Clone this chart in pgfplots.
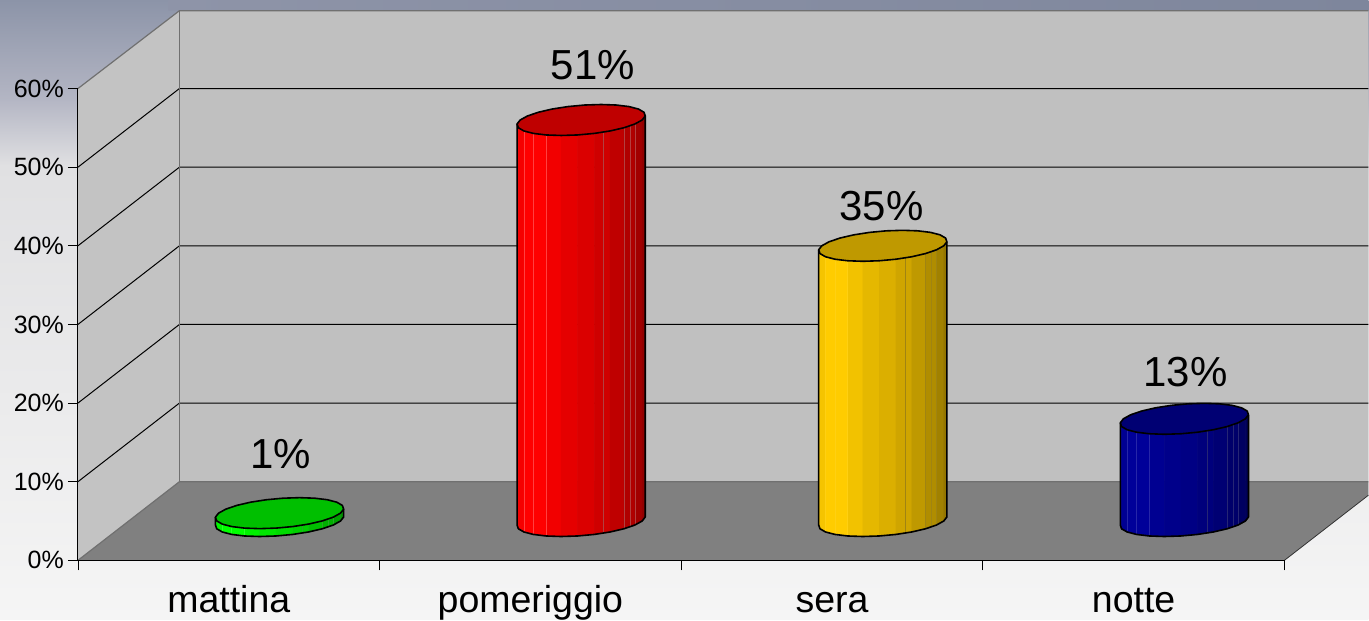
\documentclass[border=0pt]{standalone}
\usepackage{fontspec}
\setmainfont{Liberation Sans}
\usepackage{pgfplots}
\usepackage{pgfplotstable}
\pgfplotsset{compat=1.18}

\definecolor{wallback}{HTML}{C0C0C0}
\definecolor{wallside}{HTML}{C3C3C3}
\definecolor{floorc}{HTML}{808080}
\definecolor{edgec}{HTML}{707070}
\definecolor{bar1}{HTML}{00FF00}
\definecolor{bar2}{HTML}{FF0000}
\definecolor{bar3}{HTML}{FFCC00}
\definecolor{bar4}{HTML}{000099}

% one side strip: u runs along the rim, v up the bar
\pgfplotstableread{
u v
0 0
1 0
1 1
0 1
0 0
}\striptab

\pgfplotstableread{
u v
0 0
0 1
}\seamtab

% top rim, offsets from the bar centre (x in categories, y in percent)
\pgfplotstableread{
dx dy
0.2022 0
0.2125 0.510
0.2083 0.985
0.1899 1.393
0.1585 1.706
0.1163 1.903
0.0663 1.970
0.0117 1.903
-0.0437 1.706
-0.0961 1.393
-0.1419 0.985
-0.1781 0.510
-0.2022 0
-0.2125 -0.510
-0.2083 -0.985
-0.1899 -1.393
-0.1585 -1.706
-0.1163 -1.903
-0.0663 -1.970
-0.0117 -1.903
0.0437 -1.706
0.0961 -1.393
0.1419 -0.985
0.1781 -0.510
0.2022 0
}\rimtab

% visible outline of the side
\pgfplotstableread{
dx dy h
-0.2125 -0.510 1
-0.2125 -0.510 0
-0.2083 -0.985 0
-0.1899 -1.393 0
-0.1585 -1.706 0
-0.1163 -1.903 0
-0.0663 -1.970 0
-0.0117 -1.903 0
0.0437 -1.706 0
0.0961 -1.393 0
0.1419 -0.985 0
0.1781 -0.510 0
0.2022 0 0
0.2125 0.510 0
0.2125 0.510 1
}\sidetab

\newcommand\strip[8]{%
  \addplot[fill=#1!#8!black,draw=#1!#8!black,line width=0.4pt] table[
    x expr=#2+#4+\thisrow{u}*(#6-(#4)),
    y expr=5+#5+\thisrow{u}*(#7-(#5))+\thisrow{v}*#3] {\striptab};
}
\newcommand\seam[5]{%
  \addplot[#3,line width=0.6pt] table[
    x expr=#1+#4,y expr=5+#5+\thisrow{v}*#2] {\seamtab};
}
% centre, value, colour, tint of the seams
\newcommand\cylinder[4]{%
  \strip{#3}{#1}{#2}{-0.2125}{-0.510}{-0.2083}{-0.985}{90}
  \strip{#3}{#1}{#2}{-0.2083}{-0.985}{-0.1899}{-1.393}{96}
  \strip{#3}{#1}{#2}{-0.1899}{-1.393}{-0.1585}{-1.706}{100}
  \strip{#3}{#1}{#2}{-0.1585}{-1.706}{-0.1163}{-1.903}{100}
  \strip{#3}{#1}{#2}{-0.1163}{-1.903}{-0.0663}{-1.970}{95}
  \strip{#3}{#1}{#2}{-0.0663}{-1.970}{-0.0117}{-1.903}{90}
  \strip{#3}{#1}{#2}{-0.0117}{-1.903}{0.0437}{-1.706}{86}
  \strip{#3}{#1}{#2}{0.0437}{-1.706}{0.0961}{-1.393}{81}
  \strip{#3}{#1}{#2}{0.0961}{-1.393}{0.1419}{-0.985}{75}
  \strip{#3}{#1}{#2}{0.1419}{-0.985}{0.1781}{-0.510}{69}
  \strip{#3}{#1}{#2}{0.1781}{-0.510}{0.2022}{0}{63}
  \strip{#3}{#1}{#2}{0.2022}{0}{0.2125}{0.510}{58}
  \seam{#1}{#2}{#3!#4!white}{-0.1899}{-1.393}
  \seam{#1}{#2}{#3!#4!white}{-0.1585}{-1.706}
  \seam{#1}{#2}{#3!#4!white}{-0.1163}{-1.903}
  \seam{#1}{#2}{#3!60!black!#4!white}{0.0745}{-1.530}
  \seam{#1}{#2}{#3!60!black!#4!white}{0.1419}{-0.985}
  \seam{#1}{#2}{#3!60!black!#4!white}{0.1620}{-0.760}
  \seam{#1}{#2}{#3!60!black!#4!white}{0.1781}{-0.510}
  \addplot[draw=black,line width=1.6pt,line join=round] table[
    x expr=#1+\thisrow{dx},y expr=5+\thisrow{dy}+\thisrow{h}*#2] {\sidetab};
  \addplot[fill=#3!75!black,draw=black,line width=1.6pt,line join=round] table[
    x expr=#1+\thisrow{dx},y expr=5+\thisrow{dy}+#2] {\rimtab};
}

\begin{document}
\begin{tikzpicture}
\begin{axis}[
  scale only axis,width=1207pt,height=472pt,
  xmin=0,xmax=4,ymin=0,ymax=60,
  clip=false,axis on top,no markers,
  axis x line*=bottom,axis y line*=left,
  axis line style={black,line width=1pt},
  tick align=outside,major tick length=10pt,
  tick style={black,line width=0.8pt},
  /pgf/number format/assume math mode=true,
  ytick={0,10,...,60},
  yticklabel={\pgfmathprintnumber{\tick}\%},
  y tick label style={font=\fontsize{25}{28}\selectfont,inner sep=0pt,xshift=-4pt},
  xtick={0,1,2,3,4},xticklabels={},
  extra x ticks={0.5,1.5,2.5,3.5},
  extra x tick labels={mattina,pomeriggio,sera,notte},
  extra x tick style={major tick length=0pt,
    tick label style={font=\fontsize{37.5}{40}\selectfont,inner sep=0pt,
      text height=27pt,text depth=8pt,anchor=north,yshift=-25pt}},
]
% page background
\fill[color={rgb,255:red,240;green,240;blue,240}] (axis cs:-0.2585,-7.56) rectangle (axis cs:4.2784,71.26);
\shade[top color={rgb,255:red,224;green,224;blue,226},bottom color={rgb,255:red,245;green,245;blue,245}]
  (axis cs:-0.2585,-7.56) rectangle (axis cs:4.2784,50.3);
\shade[top color={rgb,255:red,180;green,182;blue,196},bottom color={rgb,255:red,224;green,224;blue,226}]
  (axis cs:-0.2585,50.2) rectangle (axis cs:4.2784,58.6);
\shade[top color={rgb,255:red,140;green,148;blue,168},bottom color={rgb,255:red,180;green,182;blue,196}]
  (axis cs:-0.2585,58.5) rectangle (axis cs:4.2784,71.26);
\shade[left color={rgb,255:red,142;green,148;blue,168},right color={rgb,255:red,126;green,134;blue,156}]
  (axis cs:0.3,69.9) rectangle (axis cs:4.2784,71.26);

% walls and floor
\addplot[fill=wallback,draw=none] coordinates {(0.3364,10)(4.2784,10)(4.2784,69.9)(0.3364,69.9)(0.3364,10)};
\addplot[fill=wallside,draw=none] coordinates {(0,0)(0.3364,10)(0.3364,69.9)(0,60)(0,0)};
\addplot[fill=floorc,draw=none] coordinates {(0,0)(4,0)(4.2784,8.28)(4.2784,10)(0.3364,10)(0,0)};

% gridlines
\addplot[black,line width=1pt] coordinates {(0,10)(0.3364,20)(4.2784,20)};
\addplot[black,line width=1pt] coordinates {(0,20)(0.3364,30)(4.2784,30)};
\addplot[black,line width=1pt] coordinates {(0,30)(0.3364,40)(4.2784,40)};
\addplot[black,line width=1pt] coordinates {(0,40)(0.3364,50)(4.2784,50)};
\addplot[black,line width=1pt] coordinates {(0,50)(0.3364,60)(4.2784,60)};
\addplot[edgec,line width=1.2pt] coordinates {(0,60)(0.3364,69.9)(4.2784,69.9)};
\addplot[edgec,line width=1.2pt] coordinates {(0,0)(0.3364,10)(4.2784,10)};
\addplot[edgec,line width=1.2pt] coordinates {(0.3364,10)(0.3364,69.9)};
\addplot[black!80,line width=0.8pt] coordinates {(4,0)(4.2784,8.28)};

% bars
\cylinder{0.6683}{1}{bar1}{85}
\cylinder{1.6683}{51}{bar2}{75}
\cylinder{2.6683}{35}{bar3}{93}
\cylinder{3.6683}{13}{bar4}{85}

% value labels
\addplot[draw=none,point meta=explicit symbolic,nodes near coords,
  every node near coord/.style={anchor=center,inner sep=0pt,font=\fontsize{42}{45}\selectfont}]
  coordinates {(0.6727,13.47)[1\%] (1.7067,62.92)[51\%] (2.6645,45.1)[35\%] (3.672,23.9)[13\%]};
\end{axis}
\end{tikzpicture}
\end{document}
